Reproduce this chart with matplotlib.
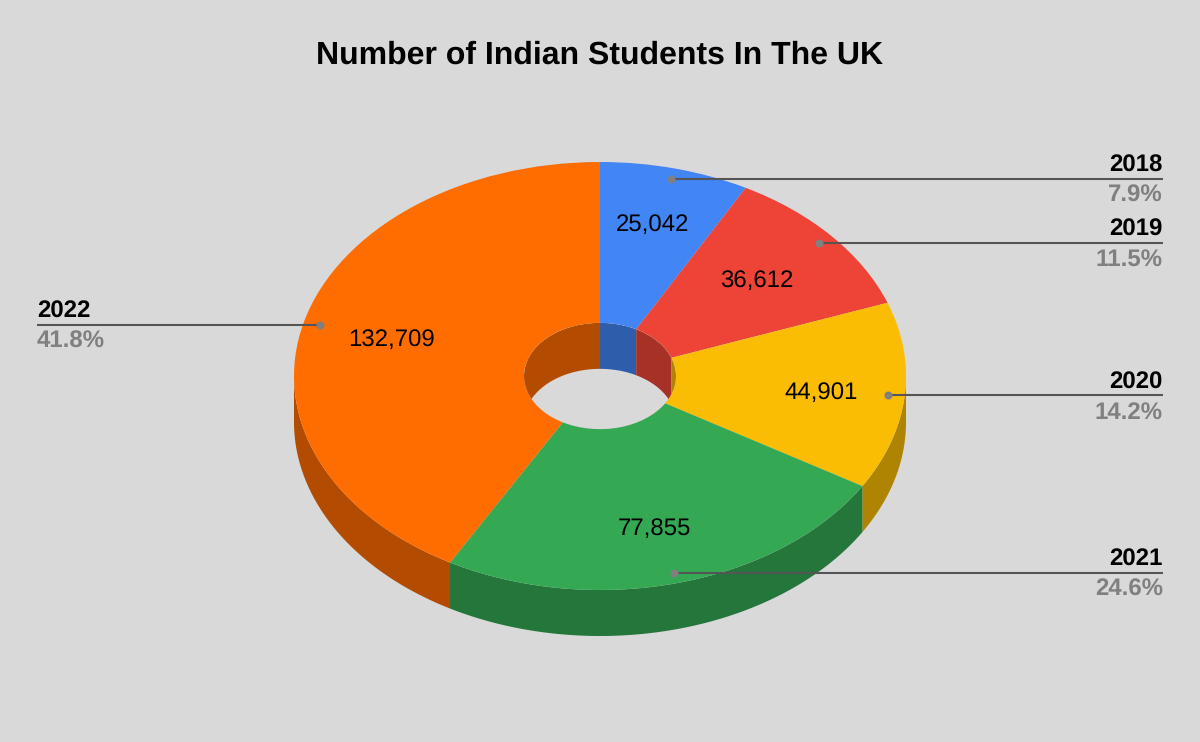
import numpy as np
import matplotlib
matplotlib.use("Agg")
import matplotlib.pyplot as plt
from matplotlib.colors import to_rgb
from matplotlib.patches import Ellipse, Polygon

plt.rcParams['font.family'] = ['Liberation Sans', 'DejaVu Sans']
plt.rcParams['text.hinting'] = 'no_hinting'
plt.rcParams['text.hinting_factor'] = 1

# Data
years = ["2018", "2019", "2020", "2021", "2022"]
students = [25042, 36612, 44901, 77855, 132709]
colors = ["#4285F4", "#EE4437", "#FBBC04", "#34A853", "#FF6D01"]

# Layout, in pixels of the 1200x742 picture
BG = "#D9D9D9"
CX, CY = 600, 376     # centre of the top face
RX, RY = 306, 214     # outer radii
HOLE = 76 / 306       # hole size relative to the outer radius
DEPTH = 46 / RY       # thickness of the disc in axis units
LABEL_R = 0.71
DOT_RX, DOT_RY = 0.945, 0.95
# small shifts of the value labels from their spot on the ring
nudge_x = [-1, -7.5, 4.5, -1, 1.5]
nudge_y = [6, -2, 0, -4, 0]


def sx(px):
    return (px - CX) / RX


def sy(px):
    return (CY - px) / RY


def arc(t0, t1, r, drop=0.0):
    # t is the angle clockwise from the top, in degrees
    t = np.radians(np.linspace(t0, t1, 120))
    return np.column_stack([r * np.sin(t), r * np.cos(t) - drop])


def band(t0, t1, r):
    return np.vstack([arc(t0, t1, r), arc(t1, t0, r, DEPTH)])


def darker(c):
    return tuple(v * 0.7 for v in to_rgb(c))


values = np.array(students, dtype=float)
edges = np.concatenate([[0], np.cumsum(values) / values.sum() * 360])
mids = (edges[:-1] + edges[1:]) / 2
shares = values / values.sum() * 100

fig = plt.figure(figsize=(12, 7.42), dpi=100, facecolor=BG)
ax = fig.add_axes([0, 0, 1, 1])

# Top face through pie, then squash the circle by leaving the aspect free
ax.pie(values, colors=colors, startangle=90, counterclock=False, radius=1,
       wedgeprops=dict(width=1 - HOLE, linewidth=0))
ax.set_aspect("auto")
ax.set_xlim(sx(0), sx(1200))
ax.set_ylim(sy(742), sy(0))
ax.axis("off")

# Outer wall, only the front half shows
for i, c in enumerate(colors):
    t0, t1 = np.clip(edges[i:i + 2], 90, 270)
    if t1 > t0:
        ax.add_patch(Polygon(band(t0, t1, 1), closed=True, fc=darker(c), lw=0, zorder=0.5))

# Inner wall, only the back half shows and only inside the hole
hole_clip = Ellipse((0, 0), 2 * HOLE, 2 * HOLE, transform=ax.transData)
for i, c in enumerate(colors):
    for lo, hi in [(-90, 90), (270, 450)]:
        t0, t1 = np.clip(edges[i:i + 2], lo, hi)
        if t1 > t0:
            p = Polygon(band(t0, t1, HOLE), closed=True, fc=darker(c), lw=0, zorder=3)
            ax.add_patch(p)
            p.set_clip_path(hole_clip)

# Slice values
for m, v, nx, ny in zip(np.radians(mids), students, nudge_x, nudge_y):
    ax.text(LABEL_R * np.sin(m) + nx / RX, LABEL_R * np.cos(m) + (ny - 8.5) / RY, f"{v:,}",
            ha="center", va="baseline", fontsize=17.5, color="black", zorder=5)

# Leader lines and outside labels
for m, y, s in zip(np.radians(mids), years, shares):
    dx, dy = DOT_RX * np.sin(m), DOT_RY * np.cos(m)
    right = dx > 0
    end = sx(1163) if right else sx(37)
    ha = "right" if right else "left"
    ax.plot([dx, end], [dy, dy], color="#555555", lw=1.5, zorder=6, solid_capstyle="butt")
    ax.plot([dx], [dy], "o", ms=5.8, color="#808080", mew=0, zorder=7)
    ax.text(end, dy + 7 / RY, y, ha=ha, va="baseline", fontsize=17.2,
            fontweight="bold", color="black", zorder=6)
    ax.text(end, dy - 23 / RY, f"{s:.1f}%", ha=ha, va="baseline", fontsize=17.2,
            fontweight="bold", color="#808080", zorder=6)

ax.text(sx(600), sy(64), "Number of Indian Students In The UK", ha="center",
        va="baseline", fontsize=22.9, fontweight="bold", color="black")

fig.savefig("out.png", dpi=100, facecolor=BG)
